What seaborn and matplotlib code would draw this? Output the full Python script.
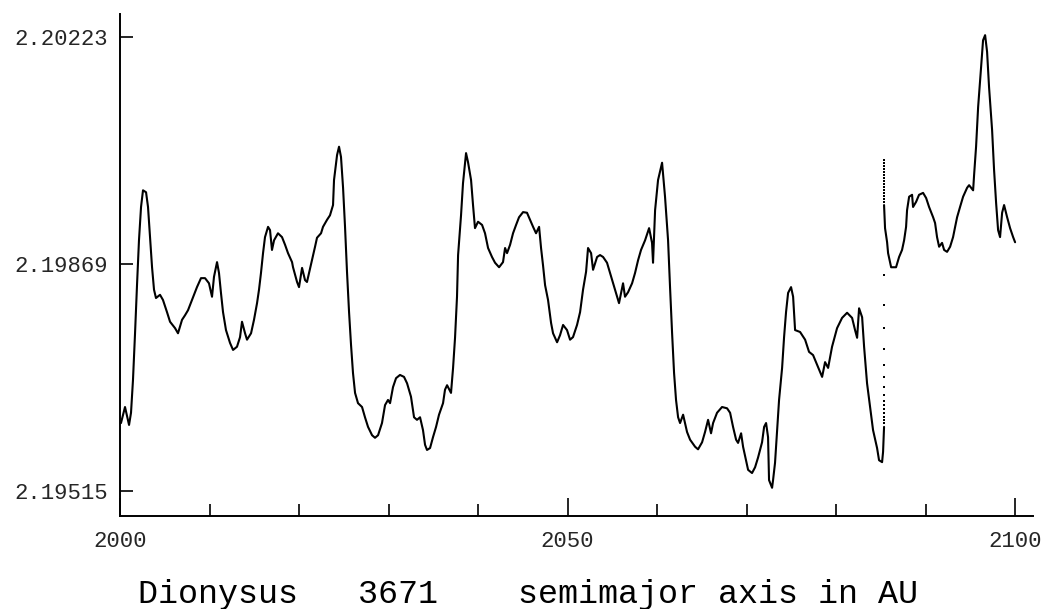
import matplotlib
matplotlib.use("Agg")
import matplotlib.pyplot as plt
import seaborn as sns
import pandas as pd
from matplotlib.ticker import MultipleLocator, FixedLocator

# Osculating semimajor axis of (3671) Dionysus, 2000-2100 (AU)
years_a = [
    2000.11, 2000.56, 2001.01, 2001.23, 2001.45, 2001.68, 2001.90, 2002.12, 2002.35, 2002.57,
    2002.91, 2003.13, 2003.35, 2003.58, 2003.80, 2004.02, 2004.47, 2004.80, 2005.25, 2005.59,
    2006.15, 2006.48, 2006.93, 2007.26, 2007.60, 2008.04, 2008.60, 2009.05, 2009.50, 2009.94,
    2010.28, 2010.50, 2010.84, 2011.06, 2011.28, 2011.51, 2011.84, 2012.29, 2012.63, 2013.07,
    2013.41, 2013.63, 2013.97, 2014.19, 2014.64, 2014.97, 2015.31, 2015.53, 2015.75, 2015.98,
    2016.20, 2016.54, 2016.76, 2016.98, 2017.21, 2017.65, 2018.10, 2018.44, 2018.77, 2019.22,
    2019.33, 2019.78, 2020.00, 2020.34, 2020.67, 2020.89, 2021.12, 2021.45, 2021.79, 2022.01,
    2022.46, 2022.68, 2023.13, 2023.46, 2023.80, 2023.91, 2024.25, 2024.47, 2024.69, 2024.92,
    2025.14, 2025.36, 2025.59, 2025.81, 2026.03, 2026.26, 2026.59, 2027.04, 2027.37, 2027.71,
    2028.16, 2028.49, 2028.83, 2029.27, 2029.61, 2029.94, 2030.17, 2030.50, 2030.84, 2031.28,
    2031.73, 2032.07, 2032.51, 2032.85, 2033.18, 2033.52, 2033.85, 2034.08, 2034.30, 2034.64,
    2034.97, 2035.31, 2035.64, 2036.09, 2036.31, 2036.54, 2036.98, 2037.21, 2037.43, 2037.65,
    2037.77, 2038.10, 2038.32, 2038.66, 2038.88, 2039.22, 2039.44, 2039.66, 2040.00, 2040.45,
    2040.78, 2041.12, 2041.56, 2041.90, 2042.35, 2042.79, 2043.02, 2043.24, 2043.58, 2043.91,
    2044.25, 2044.58, 2045.03, 2045.47, 2045.81, 2046.15, 2046.48, 2046.82, 2047.04, 2047.26,
    2047.49, 2047.82, 2048.16, 2048.38, 2048.83, 2049.16, 2049.50, 2049.94, 2050.28, 2050.61,
    2051.06, 2051.40, 2051.73, 2052.07, 2052.29, 2052.63, 2052.85, 2053.30, 2053.63, 2053.97,
    2054.41, 2054.75, 2055.08, 2055.53, 2055.75, 2056.20, 2056.42, 2056.76, 2057.21, 2057.54,
    2057.88, 2058.21, 2058.66, 2059.11, 2059.44, 2059.55, 2059.78, 2060.11, 2060.56, 2060.89,
    2061.23, 2061.45, 2061.68, 2061.90, 2062.12, 2062.35, 2062.57, 2062.91, 2063.35, 2063.69,
    2064.25, 2064.58, 2065.03, 2065.36, 2065.70, 2066.03, 2066.26, 2066.70, 2067.26, 2067.82,
    2068.16, 2068.49, 2068.83, 2069.05, 2069.39, 2069.61, 2069.94, 2070.17, 2070.61, 2070.95,
    2071.28, 2071.73, 2071.96, 2072.18, 2072.40, 2072.51, 2072.85, 2072.96, 2073.18, 2073.41,
    2073.63, 2073.97, 2074.19, 2074.41, 2074.64, 2074.97, 2075.20, 2075.42, 2075.98, 2076.54,
    2076.98, 2077.43, 2077.88, 2078.44, 2078.77, 2079.11, 2079.55, 2080.11, 2080.67, 2081.23,
    2081.79, 2082.12, 2082.35, 2082.57, 2082.91, 2083.13, 2083.46, 2083.80, 2084.13, 2084.58,
    2084.80, 2085.14, 2085.25, 2085.36,
]
axis_a = [
    2.19621, 2.19646, 2.19618, 2.19637, 2.19688, 2.19761, 2.19836, 2.19906, 2.19958, 2.19984,
    2.19981, 2.19958, 2.19911, 2.19864, 2.19829, 2.19816, 2.19821, 2.19813, 2.19794, 2.19779,
    2.19769, 2.19761, 2.19782, 2.19789, 2.19797, 2.19813, 2.19833, 2.19847, 2.19847, 2.19839,
    2.19818, 2.19849, 2.19872, 2.19855, 2.19824, 2.19794, 2.19766, 2.19746, 2.19735, 2.19740,
    2.19755, 2.19779, 2.19761, 2.19751, 2.19761, 2.19782, 2.19808, 2.19829, 2.19855, 2.19886,
    2.19911, 2.19927, 2.19922, 2.19891, 2.19906, 2.19917, 2.19911, 2.19899, 2.19886, 2.19872,
    2.19864, 2.19841, 2.19833, 2.19863, 2.19844, 2.19841, 2.19855, 2.19875, 2.19896, 2.19910,
    2.19917, 2.19927, 2.19938, 2.19945, 2.19961, 2.20000, 2.20039, 2.20052, 2.20036, 2.19988,
    2.19927, 2.19857, 2.19794, 2.19743, 2.19699, 2.19668, 2.19652, 2.19646, 2.19630, 2.19615,
    2.19602, 2.19598, 2.19602, 2.19621, 2.19649, 2.19657, 2.19652, 2.19677, 2.19691, 2.19696,
    2.19693, 2.19683, 2.19662, 2.19630, 2.19626, 2.19630, 2.19610, 2.19587, 2.19579, 2.19582,
    2.19599, 2.19615, 2.19634, 2.19652, 2.19673, 2.19680, 2.19668, 2.19707, 2.19754, 2.19818,
    2.19883, 2.19945, 2.19995, 2.20042, 2.20028, 2.20000, 2.19961, 2.19925, 2.19935, 2.19930,
    2.19917, 2.19894, 2.19880, 2.19871, 2.19864, 2.19872, 2.19894, 2.19886, 2.19899, 2.19917,
    2.19930, 2.19942, 2.19950, 2.19949, 2.19938, 2.19927, 2.19917, 2.19927, 2.19894, 2.19867,
    2.19836, 2.19813, 2.19777, 2.19761, 2.19747, 2.19758, 2.19774, 2.19766, 2.19751, 2.19755,
    2.19774, 2.19794, 2.19829, 2.19857, 2.19894, 2.19886, 2.19860, 2.19880, 2.19883, 2.19880,
    2.19871, 2.19855, 2.19839, 2.19818, 2.19808, 2.19839, 2.19818, 2.19825, 2.19839, 2.19855,
    2.19875, 2.19891, 2.19906, 2.19925, 2.19902, 2.19871, 2.19953, 2.20000, 2.20027, 2.19974,
    2.19906, 2.19833, 2.19761, 2.19699, 2.19657, 2.19630, 2.19621, 2.19634, 2.19607, 2.19595,
    2.19584, 2.19580, 2.19591, 2.19607, 2.19626, 2.19605, 2.19621, 2.19637, 2.19646, 2.19644,
    2.19637, 2.19615, 2.19595, 2.19590, 2.19605, 2.19584, 2.19563, 2.19548, 2.19543, 2.19552,
    2.19567, 2.19591, 2.19615, 2.19621, 2.19599, 2.19532, 2.19520, 2.19532, 2.19559, 2.19610,
    2.19657, 2.19707, 2.19755, 2.19794, 2.19824, 2.19833, 2.19818, 2.19766, 2.19763, 2.19751,
    2.19732, 2.19727, 2.19712, 2.19693, 2.19716, 2.19707, 2.19740, 2.19769, 2.19785, 2.19793,
    2.19785, 2.19766, 2.19754, 2.19800, 2.19786, 2.19740, 2.19683, 2.19646, 2.19610, 2.19582,
    2.19563, 2.19560, 2.19576, 2.19615,
]

# Rapid change around 2085: individual samples only
jump_year = 2085.38
jump_axis = [
    2.20031, 2.20027, 2.20022, 2.20017, 2.20012, 2.20008, 2.20003, 2.19998, 2.19994, 2.19989,
    2.19984, 2.19980, 2.19975, 2.19970, 2.19966, 2.19852, 2.19805, 2.19769, 2.19736, 2.19712,
    2.19693, 2.19677, 2.19665, 2.19655, 2.19649, 2.19643, 2.19637, 2.19630, 2.19626, 2.19621,
]

years_b = [
    2085.36, 2085.47, 2085.70, 2085.81, 2086.15, 2086.70, 2087.04, 2087.37, 2087.60, 2087.82,
    2087.93, 2088.16, 2088.49, 2088.60, 2088.94, 2089.27, 2089.72, 2090.06, 2090.39, 2090.84,
    2091.06, 2091.28, 2091.51, 2091.84, 2092.07, 2092.40, 2092.74, 2093.07, 2093.30, 2093.52,
    2093.85, 2094.19, 2094.64, 2094.86, 2095.31, 2095.42, 2095.64, 2095.87, 2096.20, 2096.42,
    2096.65, 2096.87, 2097.09, 2097.43, 2097.65, 2097.88, 2098.10, 2098.32, 2098.55, 2098.77,
    2099.11, 2099.44, 2099.78, 2100.00,
]
axis_b = [
    2.19961, 2.19925, 2.19903, 2.19886, 2.19864, 2.19864, 2.19880, 2.19891, 2.19906, 2.19927,
    2.19953, 2.19974, 2.19977, 2.19958, 2.19966, 2.19977, 2.19980, 2.19972, 2.19958, 2.19942,
    2.19933, 2.19911, 2.19896, 2.19902, 2.19891, 2.19888, 2.19896, 2.19911, 2.19927, 2.19942,
    2.19958, 2.19974, 2.19988, 2.19992, 2.19984, 2.20008, 2.20052, 2.20114, 2.20176, 2.20218,
    2.20226, 2.20200, 2.20145, 2.20078, 2.20016, 2.19964, 2.19922, 2.19911, 2.19949, 2.19961,
    2.19942, 2.19925, 2.19911, 2.19903,
]

y_ticks = [2.19515, 2.19869, 2.20223]
y_tick_labels = ["2.19515", "2.19869", "2.20223"]
x_ticks = [2000, 2050, 2100]
title_text = "Dionysus   3671    semimajor axis in AU"

sns.set_style("white")
plt.rcParams["font.family"] = ["Liberation Mono", "DejaVu Sans Mono"]

W, H = 1049, 609
fig = plt.figure(figsize=(W / 100, H / 100), dpi=100)
ax = fig.add_axes([120 / W, (H - 516) / H, (1033 - 120) / W, (516 - 14) / H])

seg_a = pd.DataFrame({"year": years_a, "a": axis_a})
seg_b = pd.DataFrame({"year": years_b, "a": axis_b})
jump = pd.DataFrame({"year": [jump_year] * len(jump_axis), "a": jump_axis})

sns.lineplot(data=seg_a, x="year", y="a", sort=False, estimator=None,
             color="black", linewidth=1.5, ax=ax)
sns.lineplot(data=seg_b, x="year", y="a", sort=False, estimator=None,
             color="black", linewidth=1.5, ax=ax)
sns.scatterplot(data=jump, x="year", y="a", color="black", marker="s",
                s=1.5, linewidth=0, ax=ax)

ax.set_xlim(2000, 2102.0)
ax.set_ylim(2.19476, 2.20259)

for side in ("top", "right"):
    ax.spines[side].set_visible(False)
for side in ("left", "bottom"):
    ax.spines[side].set_color("black")
    ax.spines[side].set_linewidth(1.4)

ax.xaxis.set_major_locator(FixedLocator(x_ticks))
ax.xaxis.set_minor_locator(MultipleLocator(10))
ax.set_yticks(y_ticks)
ax.set_yticklabels(y_tick_labels)

ax.tick_params(axis="x", which="major", direction="in", length=13, width=1.2,
               color="black", labelsize=16, pad=11, bottom=True)
ax.tick_params(axis="x", which="minor", direction="in", length=9, width=1.2,
               color="black", bottom=True)
ax.tick_params(axis="y", which="major", direction="in", length=9.5, width=1.2,
               color="black", labelsize=16, pad=9, left=True)

ax.set_xlabel("")
ax.set_ylabel("")
ax.grid(False)

fig.text(528 / W, (H - 603) / H, title_text, ha="center", va="baseline",
         fontsize=24, color="black")

fig.savefig("out.png", dpi=100, facecolor="white")
